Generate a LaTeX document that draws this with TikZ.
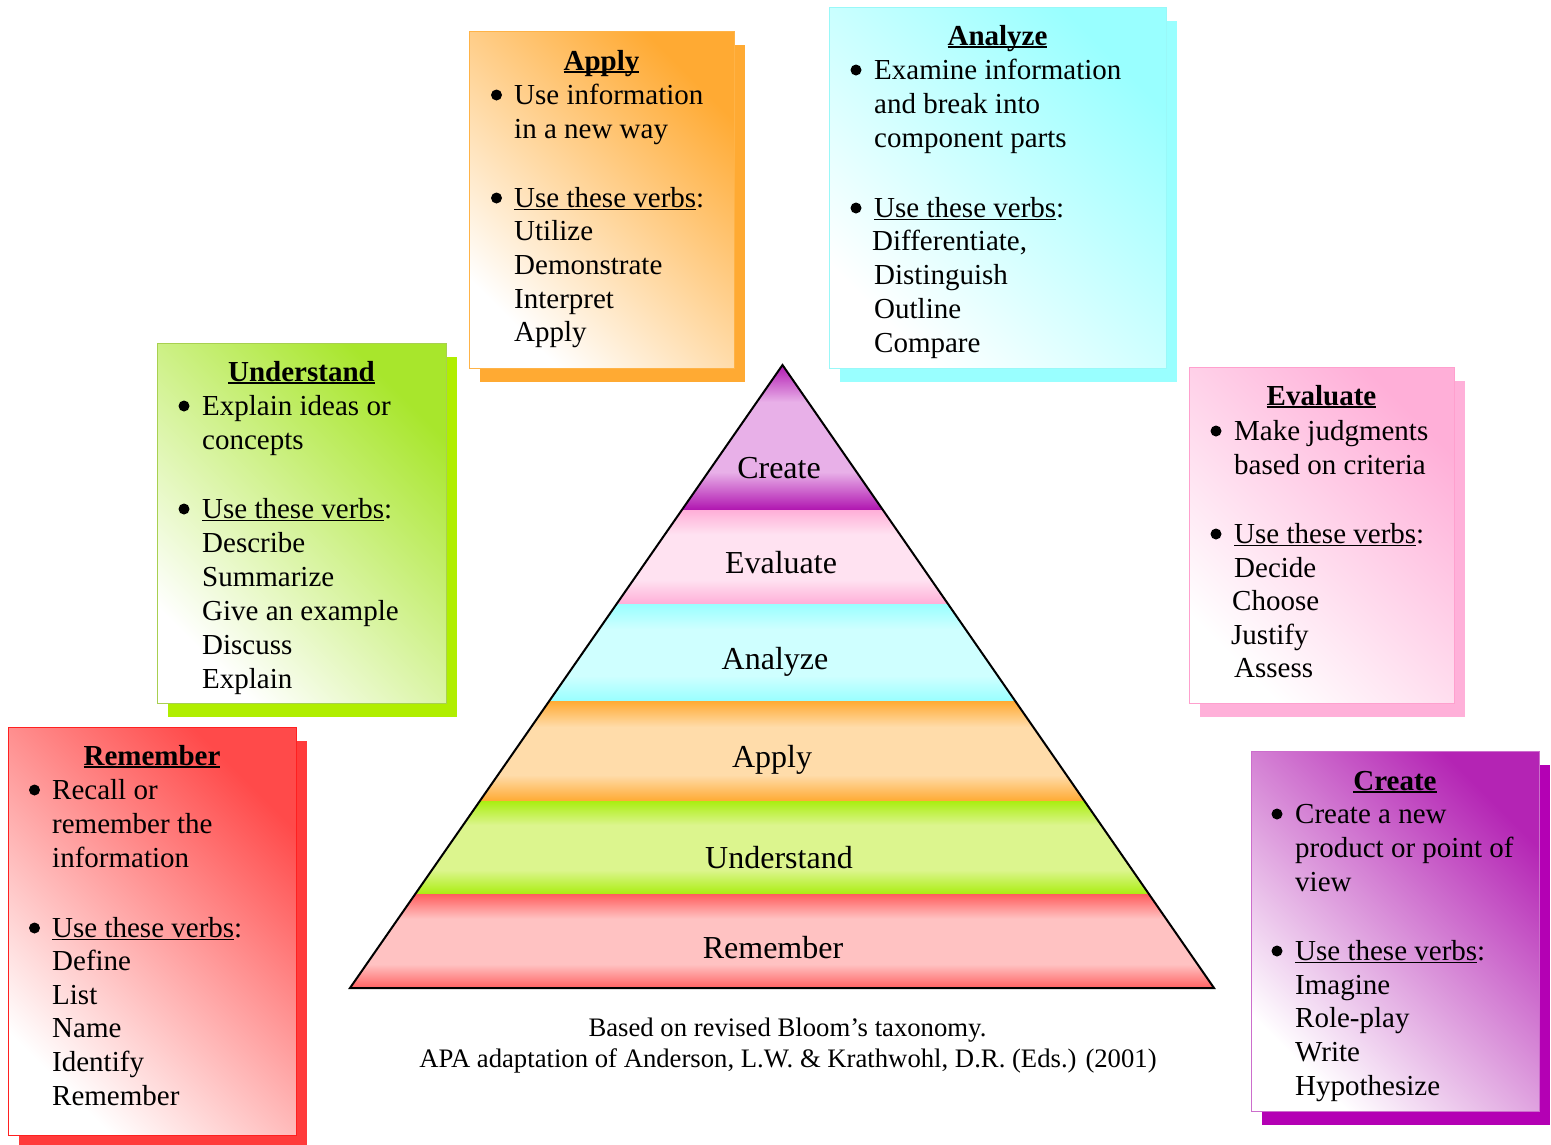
\documentclass[tikz,border=0pt]{standalone}
\usepackage{fontspec}
\setmainfont{Liberation Serif}
\usetikzlibrary{shadows}
% box colours
\definecolor{remG}{HTML}{FF4A4A}\definecolor{remB}{HTML}{FF2020}\definecolor{remS}{HTML}{FF3B3B}
\definecolor{undG}{HTML}{A8E62C}\definecolor{undB}{HTML}{A8D050}\definecolor{undS}{HTML}{B0EE00}
\definecolor{appG}{HTML}{FFAA33}\definecolor{appB}{HTML}{FFB347}\definecolor{appS}{HTML}{FFAA33}
\definecolor{anaG}{HTML}{99FFFF}\definecolor{anaB}{HTML}{99F8F8}\definecolor{anaS}{HTML}{99FFFF}
\definecolor{evaG}{HTML}{FFAFD8}\definecolor{evaB}{HTML}{FFA0CE}\definecolor{evaS}{HTML}{FFB0D9}
\definecolor{creG}{HTML}{B424B4}\definecolor{creB}{HTML}{CC6ECC}\definecolor{creS}{HTML}{B400B4}
% pyramid band colours
\definecolor{creE}{HTML}{B015B0}\definecolor{creM}{HTML}{E8B0E8}
\definecolor{evaE}{HTML}{FFAFD8}\definecolor{evaM}{HTML}{FFE2F1}
\definecolor{anaE}{HTML}{99FFFF}\definecolor{anaM}{HTML}{CFFFFF}
\definecolor{appE}{HTML}{FFAA33}\definecolor{appM}{HTML}{FFDCAA}
\definecolor{undE}{HTML}{AAEE11}\definecolor{undM}{HTML}{DCF58E}
\definecolor{remE}{HTML}{FF5E5E}\definecolor{remM}{HTML}{FFC2C2}
\newcommand\mkband[3]{\pgfdeclareverticalshading{#1}{100bp}{color(0bp)=(#2); color(25bp)=(#2); color(38bp)=(#3); color(62bp)=(#3); color(75bp)=(#2); color(100bp)=(#2)}}
\mkband{bandcre}{creE}{creM}
\mkband{bandeva}{evaE}{evaM}
\mkband{bandana}{anaE}{anaM}
\mkband{bandapp}{appE}{appM}
\mkband{bandund}{undE}{undM}
\mkband{bandrem}{remE}{remM}
\newsavebox\ulbox
\newcommand\myul[2][1.4pt]{\sbox\ulbox{#2}\rlap{\rule[-3.4pt]{\wd\ulbox}{#1}}\usebox\ulbox}
\newcommand\verbsline{\myul{Use these verbs}:}
\newcommand\cardtext[3]{\foreach \yy/\tx [count=\ii] in {#3} {\node[bodytxt] (#1-\ii) at (#2,\yy) {\tx};}}
\newcommand\cardbullets[2]{\foreach \yy in {#2} {\fill[bul] (#1,\yy-9) circle[radius=5.5pt];}}
\tikzset{
  bodytxt/.style={anchor=base west, inner sep=0pt, font=\fontsize{29}{34}\selectfont},
  titletxt/.style={anchor=base, inner sep=0pt, font=\fontsize{29}{34}\selectfont\bfseries},
  pyrtxt/.style={anchor=base, inner sep=0pt, font=\fontsize{32}{38}\selectfont},
  captxt/.style={anchor=base, inner sep=0pt, font=\fontsize{26.7}{31}\selectfont},
  bul/.style={fill=black},
  card/.style n args={3}{rectangle, anchor=north west, inner sep=0pt, draw=#2, line width=1.3pt,
    top color=#1, bottom color=white, shading angle=-45,
    drop shadow={fill=#3, opacity=1, shadow xshift=10.5pt, shadow yshift=-13.5pt}},
  pyrline/.style={draw=black, line width=2pt, line join=miter}
}
\begin{document}
\begin{tikzpicture}[x=1pt,y=-1pt]
\useasboundingbox (0,0) rectangle (1551,1144);
% ---------------- pyramid
\coordinate (apex) at (782.5,365);
\coordinate (bl) at (350,988);
\coordinate (br) at (1214,988);
\begin{scope}
  \clip (apex) -- (bl) -- (br) -- cycle;
  \fill[shading=bandcre] (340,364) rectangle (1225,510);
  \fill[shading=bandeva] (340,510) rectangle (1225,604);
  \fill[shading=bandana] (340,604) rectangle (1225,701);
  \fill[shading=bandapp] (340,701) rectangle (1225,801);
  \fill[shading=bandund] (340,801) rectangle (1225,894);
  \fill[shading=bandrem] (340,894) rectangle (1225,989);
\end{scope}
\draw[pyrline] (apex) -- (bl) -- (br) -- cycle;
\node[pyrtxt] (p-cre) at (779,478) {Create};
\node[pyrtxt] (p-eva) at (781,573) {Evaluate};
\node[pyrtxt] (p-ana) at (775,669) {Analyze};
\node[pyrtxt] (p-app) at (772,767) {Apply};
\node[pyrtxt] (p-und) at (779,868) {Understand};
\node[pyrtxt] (p-rem) at (773,958) {Remember};
% ---------------- caption
\node[captxt] (cap1) at (787.5,1036) {Based on revised Bloom’s taxonomy.};
\node[captxt] (cap2) at (788,1067) {APA adaptation of Anderson, L.W. \& Krathwohl, D.R. (Eds.) (2001)};
% ---------------- Remember card
\node[card={remG}{remB}{remS}, minimum width=288, minimum height=408] (rem) at (8,727) {};
\node[titletxt] (rem-t) at (152,765) {\myul[2pt]{Remember}};
\cardbullets{34.5}{799,937}
\cardtext{rem}{52}{799/Recall or, 833/remember the, 867/information, 937/\verbsline, 970/Define, 1004/List, 1037/Name, 1071/Identify, 1105/Remember}
% ---------------- Understand card
\node[card={undG}{undB}{undS}, minimum width=289, minimum height=360] (und) at (157,343) {};
\node[titletxt] (und-t) at (301.5,381) {\myul[2pt]{Understand}};
\cardbullets{184}{415,518}
\cardtext{und}{202}{415/Explain ideas or, 449/concepts, 518/\verbsline, 552/Describe, 586/Summarize, 620/Give an example, 654/Discuss, 688/Explain}
% ---------------- Apply card
\node[card={appG}{appB}{appS}, minimum width=265, minimum height=337] (app) at (469,31) {};
\node[titletxt] (app-t) at (601.5,70) {\myul[2pt]{Apply}};
\cardbullets{496.5}{104,207}
\cardtext{app}{514}{104/Use information, 138/in a new way, 207/\verbsline, 240/Utilize, 274/Demonstrate, 308/Interpret, 341/Apply}
% ---------------- Analyze card
\node[card={anaG}{anaB}{anaS}, minimum width=337, minimum height=361] (ana) at (829,7) {};
\node[titletxt] (ana-t) at (997.5,45) {\myul[2pt]{Analyze}};
\cardbullets{856}{79,217}
\cardtext{ana}{874}{79/Examine information, 113/and break into, 147/component parts, 217/\verbsline, 250/{\hspace*{-2pt}Differentiate,}, 284/Distinguish, 318/Outline, 352/Compare}
% ---------------- Evaluate card
\node[card={evaG}{evaB}{evaS}, minimum width=265, minimum height=336] (eva) at (1189,367) {};
\node[titletxt] (eva-t) at (1321.5,405) {\myul[2pt]{Evaluate}};
\cardbullets{1216}{440,543}
\cardtext{eva}{1234}{440/Make judgments, 474/based on criteria, 543/\verbsline, 577/Decide, 610/{\hspace*{-2pt}Choose}, 644/{\hspace*{-3pt}Justify}, 677/Assess}
% ---------------- Create card
\node[card={creG}{creB}{creS}, minimum width=288, minimum height=360] (cre) at (1251,751) {};
\node[titletxt] (cre-t) at (1395,790) {\myul[2pt]{Create}};
\cardbullets{1277}{823,960}
\cardtext{cre}{1295}{823/Create a new, 857/product or point of, 891/view, 960/\verbsline, 994/Imagine, 1027/Role-play, 1061/Write, 1095/Hypothesize}
\end{tikzpicture}
\end{document}
